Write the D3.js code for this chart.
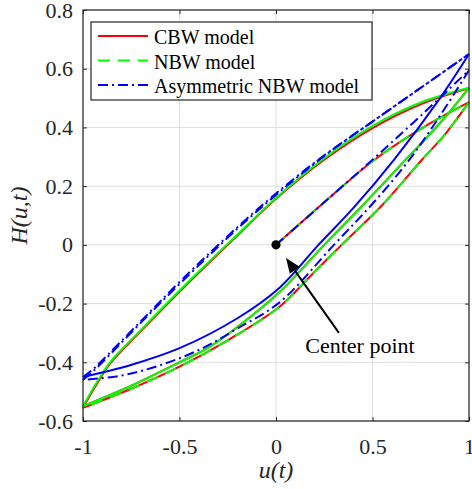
<!DOCTYPE html>
<html>
<head>
<meta charset="utf-8">
<script src="https://cdn.jsdelivr.net/npm/d3@7"></script>
<style>
  body { margin: 0; background: #fff; }
  svg { display: block; }
  text { font-family: "Liberation Serif", "Times New Roman", serif; fill: #262626; }
</style>
</head>
<body>
<div class="chart"></div>
<script>
// tick values
var xTicks = [-1, -0.5, 0, 0.5, 1];
var yTicks = [-0.6, -0.4, -0.2, 0, 0.2, 0.4, 0.6, 0.8];
var legendLabels = ["CBW model", "NBW model", "Asymmetric NBW model"];

// CBW model, [u, H]
var cbwInit = [[0, 0], [0.25, 0.145], [0.5, 0.285], [0.75, 0.395], [1, 0.486]];
var cbwFirstDown = [[1, 0.486], [0.88, 0.38], [0.755, 0.289], [0.55, 0.135], [0.34, 0], [0.18, -0.105], [0.02, -0.21], [-0.25, -0.325], [-0.5, -0.415], [-0.75, -0.49], [-1, -0.555]];
var cbwUp = [[-1, -0.555], [-0.93, -0.476], [-0.86, -0.405], [-0.7, -0.294], [-0.445, -0.124], [-0.2, 0.032], [0, 0.157], [0.25, 0.29], [0.5, 0.398], [0.75, 0.479], [1, 0.533]];
var cbwDown = [[1, 0.535], [0.85, 0.415], [0.65, 0.275], [0.45, 0.135], [0.25, 0], [0.02, -0.16], [-0.2, -0.28], [-0.35, -0.35], [-0.5, -0.4], [-0.75, -0.48], [-1, -0.55]];

// NBW model
var nbwInit = [[0, 0], [0.25, 0.145], [0.5, 0.285], [0.75, 0.395], [1, 0.486]];
var nbwFirstDown = [[1, 0.486], [0.88, 0.38], [0.755, 0.289], [0.55, 0.135], [0.34, 0], [0.18, -0.105], [0.02, -0.21], [-0.25, -0.325], [-0.5, -0.415], [-0.75, -0.49], [-1, -0.555]];
var nbwUp = [[-1, -0.55], [-0.93, -0.47], [-0.86, -0.4], [-0.7, -0.29], [-0.445, -0.12], [-0.2, 0.035], [0, 0.16], [0.25, 0.295], [0.5, 0.405], [0.75, 0.485], [1, 0.535]];
var nbwDown = [[1, 0.535], [0.85, 0.415], [0.65, 0.275], [0.45, 0.135], [0.25, 0], [0.02, -0.16], [-0.2, -0.28], [-0.35, -0.35], [-0.5, -0.4], [-0.75, -0.48], [-1, -0.55]];

// Asymmetric NBW model
var asymInit = [[0, 0], [0.25, 0.145], [0.5, 0.29], [0.75, 0.44], [1, 0.595]];
var asymFirstDown = [[1, 0.595], [0.85, 0.44], [0.69, 0.289], [0.5, 0.14], [0.3, 0], [0.02, -0.195], [-0.2, -0.285], [-0.39, -0.355], [-0.6, -0.41], [-0.8, -0.445], [-1, -0.46]];
var asymFirstUp = [[-1, -0.46], [-0.95, -0.432], [-0.9, -0.4], [-0.7, -0.265], [-0.49, -0.127], [-0.2, 0.055], [0, 0.17], [0.25, 0.303], [0.5, 0.42], [0.75, 0.535], [1, 0.65]];
var asymUp = [[-1, -0.45], [-0.95, -0.425], [-0.91, -0.4], [-0.7, -0.26], [-0.49, -0.12], [-0.2, 0.06], [0, 0.175], [0.25, 0.305], [0.5, 0.42], [0.75, 0.535], [1, 0.65]];
var asymDown = [[1, 0.65], [0.85, 0.5], [0.61, 0.289], [0.4, 0.125], [0.22, 0], [0.02, -0.145], [-0.2, -0.25], [-0.5, -0.352], [-0.756, -0.41], [-1, -0.45]];

// annotation, in data units
var centerPoint = [0, 0];
var arrowTail = [0.326, -0.3];
var arrowHead = [0.052, -0.045];
var annotationText = "Center point";
var annotationAt = [0.435, -0.369];

var width = 472;
var height = 489;
var margins = { top: 10, right: 3, bottom: 68, left: 83 };
var chartWidth = width - margins.left - margins.right;
var chartHeight = height - margins.top - margins.bottom;

var red = "#ff0000", green = "#00ff00", blue = "#0000ff";
var dashed = "12,8", dashDot = "10,4,2,4";

var svg = d3.select("div.chart")
  .append("svg")
  .attr("width", width)
  .attr("height", height);

var chart = svg.append("g")
  .attr("transform", `translate(${margins.left},${margins.top})`);

var xScale = d3.scaleLinear().domain([-1, 1]).range([0, chartWidth]);
var yScale = d3.scaleLinear().domain([-0.6, 0.8]).range([chartHeight, 0]);

// grid
chart.append("g").attr("class", "grid")
  .selectAll("line.gx")
  .data(xTicks)
  .enter().append("line")
  .attr("x1", d => xScale(d)).attr("x2", d => xScale(d))
  .attr("y1", 0).attr("y2", chartHeight)
  .attr("stroke", "#dfdfdf").attr("stroke-width", 1);

chart.append("g").attr("class", "grid")
  .selectAll("line.gy")
  .data(yTicks)
  .enter().append("line")
  .attr("x1", 0).attr("x2", chartWidth)
  .attr("y1", d => yScale(d)).attr("y2", d => yScale(d))
  .attr("stroke", "#dfdfdf").attr("stroke-width", 1);

// curves
var line = d3.line()
  .x(d => xScale(d[0]))
  .y(d => yScale(d[1]))
  .curve(d3.curveCatmullRom.alpha(0.5));

var curves = [
  { data: cbwInit, color: red, dash: null },
  { data: cbwFirstDown, color: red, dash: null },
  { data: cbwUp, color: red, dash: null },
  { data: cbwDown, color: red, dash: null },
  { data: nbwInit, color: green, dash: dashed },
  { data: nbwFirstDown, color: green, dash: dashed },
  { data: nbwUp, color: green, dash: null },
  { data: nbwDown, color: green, dash: null },
  { data: asymInit, color: blue, dash: dashDot },
  { data: asymFirstDown, color: blue, dash: dashDot },
  { data: asymFirstUp, color: blue, dash: dashDot },
  { data: asymUp, color: blue, dash: dashDot },
  { data: asymDown, color: blue, dash: null }
];

chart.append("g").attr("class", "curves")
  .selectAll("path")
  .data(curves)
  .enter().append("path")
  .attr("d", d => line(d.data))
  .attr("fill", "none")
  .attr("stroke", d => d.color)
  .attr("stroke-width", 2)
  .attr("stroke-dasharray", d => d.dash);

// axes (ticks inside, box on)
var fmt = d => String(d);

chart.append("g")
  .attr("class", "x axis")
  .attr("transform", `translate(0,${chartHeight})`)
  .call(d3.axisBottom(xScale).tickValues(xTicks).tickSizeInner(-4).tickSizeOuter(0).tickPadding(17).tickFormat(fmt));

chart.append("g")
  .attr("class", "y axis")
  .call(d3.axisLeft(yScale).tickValues(yTicks).tickSizeInner(-4).tickSizeOuter(0).tickPadding(10).tickFormat(fmt));

chart.append("g")
  .call(d3.axisTop(xScale).tickValues(xTicks).tickSizeInner(-4).tickSizeOuter(0).tickFormat(""));

chart.append("g")
  .attr("transform", `translate(${chartWidth},0)`)
  .call(d3.axisRight(yScale).tickValues(yTicks).tickSizeInner(-4).tickSizeOuter(0).tickFormat(""));

chart.selectAll(".domain").remove();
chart.selectAll(".tick line").attr("stroke", "#262626");
chart.selectAll(".tick text")
  .attr("font-size", 22)
  .attr("fill", "#262626");

chart.append("rect")
  .attr("width", chartWidth)
  .attr("height", chartHeight)
  .attr("fill", "none")
  .attr("stroke", "#262626")
  .attr("stroke-width", 1.2);

// axis labels
svg.append("text")
  .attr("x", margins.left + xScale(0))
  .attr("y", 478)
  .attr("text-anchor", "middle")
  .attr("font-size", 24)
  .attr("font-style", "italic")
  .text("u(t)");

svg.append("text")
  .attr("transform", `translate(27,${margins.top + chartHeight / 2}) rotate(-90)`)
  .attr("text-anchor", "middle")
  .attr("font-size", 24)
  .attr("font-style", "italic")
  .text("H(u,t)");

// center point and arrow
chart.append("circle")
  .attr("cx", xScale(centerPoint[0]))
  .attr("cy", yScale(centerPoint[1]))
  .attr("r", 4.6)
  .attr("fill", "#000");

var tx = xScale(arrowTail[0]), ty = yScale(arrowTail[1]);
var hx = xScale(arrowHead[0]), hy = yScale(arrowHead[1]);
var len = Math.hypot(hx - tx, hy - ty);
var ux = (hx - tx) / len, uy = (hy - ty) / len;
var headLen = 15, headHalf = 6;
var bx = hx - ux * headLen, by = hy - uy * headLen;

chart.append("line")
  .attr("x1", tx).attr("y1", ty)
  .attr("x2", bx).attr("y2", by)
  .attr("stroke", "#000")
  .attr("stroke-width", 2);

chart.append("path")
  .attr("d", `M${hx},${hy}L${bx - uy * headHalf},${by + ux * headHalf}L${bx + uy * headHalf},${by - ux * headHalf}Z`)
  .attr("fill", "#000");

chart.append("text")
  .attr("x", xScale(annotationAt[0]))
  .attr("y", yScale(annotationAt[1]))
  .attr("text-anchor", "middle")
  .attr("font-size", 22)
  .style("fill", "#000")
  .text(annotationText);

// legend
var legend = svg.append("g").attr("class", "legend");
legend.append("rect")
  .attr("x", 91).attr("y", 22)
  .attr("width", 281).attr("height", 78)
  .attr("fill", "#fff")
  .attr("stroke", "#262626")
  .attr("stroke-width", 1.2);

var legendStyles = [
  { color: red, dash: null },
  { color: green, dash: dashed },
  { color: blue, dash: dashDot }
];

var rows = legend.selectAll("g.row")
  .data(legendLabels)
  .enter().append("g")
  .attr("transform", (d, i) => `translate(0,${36 + i * 24.5})`);

rows.append("line")
  .attr("x1", 98).attr("x2", 148)
  .attr("stroke", (d, i) => legendStyles[i].color)
  .attr("stroke-width", 2)
  .attr("stroke-dasharray", (d, i) => legendStyles[i].dash);

rows.append("text")
  .attr("x", 154)
  .attr("y", 8)
  .attr("font-size", 20)
  .style("fill", "#000")
  .text(d => d);
</script>
</body>
</html>
